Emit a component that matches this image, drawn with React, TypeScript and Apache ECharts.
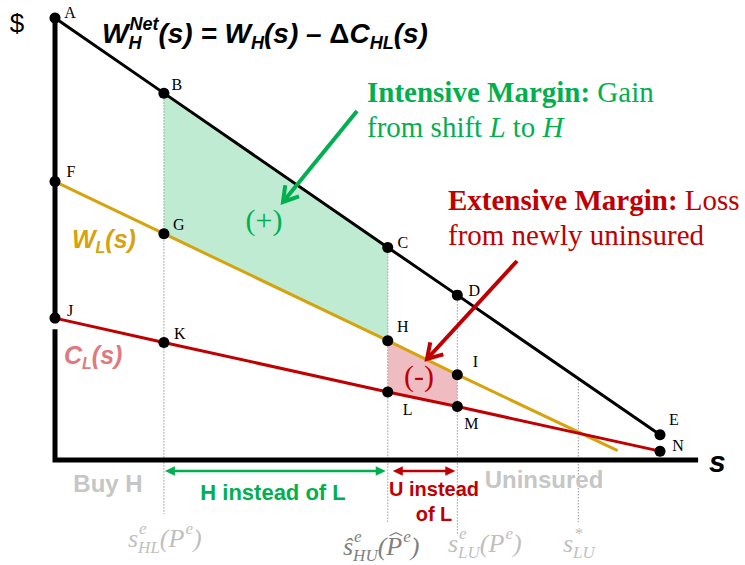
import React, { useEffect, useRef } from 'react';
import * as echarts from 'echarts';

// ---- data (s on the horizontal axis, $ on the vertical axis) ----
const sHL = 18; // s^e_HL(P^e)
const sHU = 55; // ŝ^e_HU(P̂^e)
const sLU = 66.5; // s^e_LU(P^e)
const sLUStar = 86.5; // s*_LU
const axisTopValue = 100;
const axisEndS = 106.3;

// W_H^Net(s): points A–E
const netLabels = ['A', 'B', 'C', 'D', 'E'];
const netS = [0, 18, 55, 66.5, 100];
const netValues = [100, 83, 48.1, 37.3, 5.7];

// W_L(s): points F–I, the line continues past I
const wlLabels = ['F', 'G', 'H', 'I'];
const wlS = [0, 18, 55, 66.5];
const wlValues = [63, 51.2, 27, 19.3];
const wlTail = [93, 2.1];

// C_L(s): points J–N
const clLabels = ['J', 'K', 'L', 'M', 'N'];
const clS = [0, 18, 55, 66.5, 100];
const clValues = [32.1, 26.6, 15.4, 12.1, 2.0];

// dotted guides: s position and the $ level where each starts
const guideS = [sHL, sHU, sLU, sLUStar];
const guideTop = [netValues[1], netValues[2], netValues[3], 18.1];

// ---- layout ----
const W = 745;
const H = 565;
const ORIGIN_X = 55;
const ORIGIN_Y = 460;
const PX_PER_S = 6.05;
const PX_PER_D = 4.42;
const GUIDE_DROP = [54, 63, 75, 62];
const TEXT_Z = 20;

const BLACK = '#000000';
const GOLD = '#D6A20E';
const RED = '#C00000';
const GREEN = '#00B050';
const GREEN_FILL = '#BFEBD3';
const PINK_FILL = '#EFBDC1';
const CL_TEXT = '#E07A7F';
const LIGHT_GRAY = '#BFBFBF';
const MID_GRAY = '#7F7F7F';
const REGION_GRAY = '#C6C6C6';

const letterOffset: Record<string, [number, number]> = {
  A: [15, -6], B: [13, -9], C: [15, -5], D: [17, -5], E: [14, -15],
  F: [16, -10], G: [15, -9], H: [15, -14], I: [18, -13],
  J: [15, -8], K: [16, -9], L: [20, 18], M: [14, 17], N: [18, -6],
};

// ---- text helpers ----
let measureCtx: CanvasRenderingContext2D | null = null;
function textWidth(text: string, font: string): number {
  if (!measureCtx) measureCtx = document.createElement('canvas').getContext('2d');
  if (!measureCtx) return text.length * 10;
  measureCtx.font = font;
  return measureCtx.measureText(text).width;
}
const fontOf = (family: string, size: number, bold: boolean, italic: boolean) =>
  `${italic ? 'italic' : 'normal'} ${bold ? 'bold' : 'normal'} ${size}px '${family}'`;

// central baseline sits ~0.34em above the alphabetic one
const textAt = (text: string, x: number, baseline: number, size: number, font: string, fill: string) => ({
  type: 'text',
  x,
  y: baseline - 0.34 * size,
  z: TEXT_Z,
  silent: true,
  style: { text, font, fill, textAlign: 'left', textVerticalAlign: 'middle' },
});

type Piece = { t: string; sub?: string; sup?: string; hat?: boolean; upright?: boolean };
type RowStyle = {
  family: string; size: number; small: number; bold: boolean; italic: boolean;
  color: string; drop: number; rise: number;
};

function mathRow(pieces: Piece[], x0: number, baseline: number, st: RowStyle) {
  const small = fontOf(st.family, st.small, st.bold, st.italic);
  const out: any[] = [];
  let x = x0;
  for (const p of pieces) {
    const big = fontOf(st.family, st.size, st.bold, st.italic && !p.upright);
    const w = textWidth(p.t, big);
    out.push(textAt(p.t, x, baseline, st.size, big, st.color));
    if (p.hat) {
      const yb = baseline - 0.74 * st.size;
      out.push({
        type: 'polyline',
        z: TEXT_Z,
        silent: true,
        shape: { points: [[x + w * 0.2, yb], [x + w * 0.62, yb - 0.12 * st.size], [x + w * 1.0, yb]] },
        style: { stroke: st.color, lineWidth: 1.2, fill: null },
      });
    }
    x += w;
    let adv = 0;
    if (p.sub) {
      out.push(textAt(p.sub, x, baseline + st.drop, st.small, small, st.color));
      adv = Math.max(adv, textWidth(p.sub, small));
    }
    if (p.sup) {
      out.push(textAt(p.sup, x + 1, baseline - st.rise, st.small, small, st.color));
      adv = Math.max(adv, textWidth(p.sup, small) + 1);
    }
    x += adv;
  }
  return out;
}

type Seg = { t: string; font: string };
function runText(segs: Seg[], x0: number, baseline: number, size: number, fill: string) {
  const out: any[] = [];
  let x = x0;
  for (const s of segs) {
    const lead = s.t.length - s.t.trimStart().length;
    const leadW = lead ? textWidth(s.t.slice(0, lead), s.font) : 0;
    const body = s.t.trim();
    if (body) out.push(textAt(body, x + leadW, baseline, size, s.font, fill));
    x += textWidth(s.t, s.font);
  }
  return out;
}

function chevronArrow(x1: number, y1: number, x2: number, y2: number, color: string) {
  const ang = Math.atan2(y2 - y1, x2 - x1);
  const head = 17;
  const spread = 0.55;
  const a = [x2 - head * Math.cos(ang - spread), y2 - head * Math.sin(ang - spread)];
  const b = [x2 - head * Math.cos(ang + spread), y2 - head * Math.sin(ang + spread)];
  return [
    { type: 'line', z: TEXT_Z, silent: true, shape: { x1, y1, x2, y2 }, style: { stroke: color, lineWidth: 4 } },
    {
      type: 'polyline', z: TEXT_Z, silent: true,
      shape: { points: [a, [x2, y2], b] },
      style: { stroke: color, lineWidth: 4, fill: null, lineJoin: 'miter' },
    },
  ];
}

function centered(text: string, x: number, y: number, font: string, fill: string) {
  return {
    type: 'text', x, y, z: TEXT_Z, silent: true,
    style: { text, font, fill, textAlign: 'center', textVerticalAlign: 'middle' },
  };
}

function buildGraphics() {
  const els: any[] = [];
  const serif = 'Liberation Serif';
  const sans = 'Liberation Sans';

  // title
  els.push(
    ...mathRow(
      [
        { t: 'W', sub: 'H', sup: 'Net' },
        { t: '(s) = W', sub: 'H' },
        { t: '(s) \u2013 ' },
        { t: '\u0394', upright: true },
        { t: 'C', sub: 'HL' },
        { t: '(s)' },
      ],
      102, 43,
      { family: sans, size: 28, small: 18, bold: true, italic: true, color: BLACK, drop: 6, rise: 13 },
    ),
  );

  // axis names
  els.push(centered('$', 17, 23, fontOf(sans, 26, false, false), BLACK));
  els.push(textAt('s', 709, 472, 30, fontOf(sans, 30, true, true), BLACK));

  // curve names
  els.push(
    ...mathRow([{ t: 'W', sub: 'L' }, { t: '(s)' }], 72, 247,
      { family: sans, size: 25, small: 16, bold: true, italic: true, color: GOLD, drop: 6, rise: 12 }),
  );
  els.push(
    ...mathRow([{ t: 'C', sub: 'L' }, { t: '(s)' }], 64, 363,
      { family: sans, size: 25, small: 16, bold: true, italic: true, color: CL_TEXT, drop: 6, rise: 12 }),
  );

  // area signs
  els.push(centered('(+)', 264, 219, fontOf(serif, 30, false, false), GREEN));
  els.push(centered('(-)', 419, 375, fontOf(serif, 30, false, false), RED));

  // margin annotations
  const reg = fontOf(serif, 29, false, false);
  const bold = fontOf(serif, 29, true, false);
  const ital = fontOf(serif, 29, false, true);
  els.push(...runText([{ t: 'Intensive Margin:', font: bold }, { t: ' Gain', font: reg }], 367, 102, 29, GREEN));
  els.push(
    ...runText(
      [{ t: 'from shift ', font: reg }, { t: 'L', font: ital }, { t: ' to ', font: reg }, { t: 'H', font: ital }],
      367, 137, 29, GREEN,
    ),
  );
  els.push(...runText([{ t: 'Extensive Margin:', font: bold }, { t: ' Loss', font: reg }], 448, 210, 29, RED));
  els.push(...runText([{ t: 'from newly uninsured', font: reg }], 448, 245, 29, RED));
  els.push(...chevronArrow(357, 111, 283, 202, GREEN));
  els.push(...chevronArrow(517, 261, 427, 359, RED));

  // regions along the s axis
  const regionFont = fontOf(sans, 24, true, false);
  els.push(centered('Buy H', 108, 483, regionFont, REGION_GRAY));
  els.push(centered('Uninsured', 544, 479, regionFont, REGION_GRAY));
  els.push(centered('H instead of L', 273, 492, fontOf(sans, 22, true, false), GREEN));
  els.push(centered('U instead', 434, 489, fontOf(sans, 20, true, false), RED));
  els.push(centered('of L', 434, 514, fontOf(sans, 20, true, false), RED));

  // threshold labels
  const mathStyle = (color: string): RowStyle => ({
    family: serif, size: 26, small: 17, bold: false, italic: true, color, drop: 6, rise: 13,
  });
  els.push(...mathRow([{ t: 's', sub: 'HL', sup: 'e' }, { t: '(P', sup: 'e' }, { t: ')' }], 128, 547, mathStyle(LIGHT_GRAY)));
  els.push(
    ...mathRow(
      [{ t: '\u015D', sub: 'HU', sup: 'e' }, { t: '(' }, { t: 'P', sup: 'e', hat: true }, { t: ')' }],
      343, 555, mathStyle(MID_GRAY),
    ),
  );
  els.push(...mathRow([{ t: 's', sub: 'LU', sup: 'e' }, { t: '(P', sup: 'e' }, { t: ')' }], 448, 552, mathStyle(LIGHT_GRAY)));
  els.push(...mathRow([{ t: 's', sub: 'LU', sup: '*' }], 563, 552, mathStyle(LIGHT_GRAY)));

  return els;
}

function fillSeries(points: number[][], color: string) {
  return {
    type: 'custom',
    coordinateSystem: 'cartesian2d',
    z: 1,
    silent: true,
    data: points,
    renderItem: (params: any, api: any) =>
      params.dataIndex === 0
        ? { type: 'polygon', shape: { points: points.map((p) => api.coord(p)) }, style: { fill: color } }
        : null,
  };
}

function spanArrowSeries(from: number, to: number, color: string, padL: number, padR: number) {
  return {
    type: 'custom',
    coordinateSystem: 'cartesian2d',
    z: 6,
    silent: true,
    data: [[from, to]],
    renderItem: (_params: any, api: any) => {
      const y = api.coord([0, 0])[1] + 11;
      const x1 = api.coord([api.value(0), 0])[0] + padL;
      const x2 = api.coord([api.value(1), 0])[0] - padR;
      const hl = 10;
      const hw = 4.8;
      return {
        type: 'group',
        children: [
          { type: 'line', shape: { x1: x1 + hl - 1, y1: y, x2: x2 - hl + 1, y2: y }, style: { stroke: color, lineWidth: 2.5 } },
          { type: 'polygon', shape: { points: [[x1, y], [x1 + hl, y - hw], [x1 + hl, y + hw]] }, style: { fill: color } },
          { type: 'polygon', shape: { points: [[x2, y], [x2 - hl, y - hw], [x2 - hl, y + hw]] }, style: { fill: color } },
        ],
      };
    },
  };
}

function lineSeries(name: string, data: number[][], color: string, width: number, z: number) {
  return {
    name,
    type: 'line',
    data,
    z,
    silent: true,
    symbol: 'none',
    clip: false,
    lineStyle: { color, width, opacity: 1, join: 'miter', cap: 'butt' },
  };
}

function buildOption() {
  const dots = [
    ...netLabels.map((n, i) => ({ name: n, value: [netS[i], netValues[i]] })),
    ...wlLabels.map((n, i) => ({ name: n, value: [wlS[i], wlValues[i]] })),
    ...clLabels.map((n, i) => ({ name: n, value: [clS[i], clValues[i]] })),
  ].map((d) => ({ ...d, label: { offset: letterOffset[d.name] } }));

  const greenArea = [
    [netS[1], netValues[1]], [netS[2], netValues[2]], [wlS[2], wlValues[2]], [wlS[1], wlValues[1]],
  ];
  const pinkArea = [
    [wlS[2], wlValues[2]], [wlS[3], wlValues[3]], [clS[3], clValues[3]], [clS[2], clValues[2]],
  ];

  return {
    animation: false,
    backgroundColor: '#ffffff',
    grid: { left: 0, right: 0, top: 0, bottom: 0, containLabel: false },
    xAxis: { type: 'value', min: -ORIGIN_X / PX_PER_S, max: (W - ORIGIN_X) / PX_PER_S, show: false },
    yAxis: { type: 'value', min: -(H - ORIGIN_Y) / PX_PER_D, max: ORIGIN_Y / PX_PER_D, show: false },
    series: [
      fillSeries(greenArea, GREEN_FILL),
      fillSeries(pinkArea, PINK_FILL),
      {
        type: 'custom',
        coordinateSystem: 'cartesian2d',
        z: 2,
        silent: true,
        data: guideS.map((s, i) => [s, guideTop[i]]),
        renderItem: (params: any, api: any) => {
          const top = api.coord([api.value(0), api.value(1)]);
          const base = api.coord([api.value(0), 0]);
          return {
            type: 'line',
            shape: { x1: top[0], y1: top[1], x2: top[0], y2: base[1] + GUIDE_DROP[params.dataIndex] },
            style: { stroke: '#9a9a9a', lineWidth: 1, lineDash: [1.5, 1.5] },
          };
        },
      },
      lineSeries('axis-upper', [[0, axisTopValue], [0, 31]], BLACK, 5, 3),
      lineSeries('axis-lower', [[0, 29.6], [0, 0], [axisEndS, 0]], BLACK, 5, 3),
      lineSeries('W_H^Net(s)', netS.map((s, i) => [s, netValues[i]]), BLACK, 3, 4),
      lineSeries('W_L(s)', [...wlS.map((s, i) => [s, wlValues[i]]), wlTail], GOLD, 3, 4),
      lineSeries('C_L(s)', clS.map((s, i) => [s, clValues[i]]), RED, 3, 4),
      spanArrowSeries(sHL, sHU, GREEN, 1, 2),
      spanArrowSeries(sHU, sLU, RED, 5, 2),
      {
        type: 'scatter',
        z: 5,
        silent: true,
        symbol: 'circle',
        symbolSize: 11,
        itemStyle: { color: BLACK, opacity: 1 },
        data: dots,
        label: {
          show: true,
          position: 'inside',
          formatter: '{b}',
          color: BLACK,
          fontFamily: 'Liberation Serif',
          fontSize: 16,
          align: 'center',
          verticalAlign: 'middle',
        },
      },
    ],
    graphic: { elements: buildGraphics() },
  };
}

export default function App() {
  const ref = useRef<HTMLDivElement>(null);
  useEffect(() => {
    if (!ref.current) return;
    const chart = echarts.init(ref.current, undefined, { renderer: 'svg' });
    chart.setOption(buildOption() as any);
    return () => chart.dispose();
  }, []);
  return (
    <div
      ref={ref}
      style={{ position: 'fixed', left: 0, top: 0, width: W, height: H, background: '#ffffff' }}
    />
  );
}
